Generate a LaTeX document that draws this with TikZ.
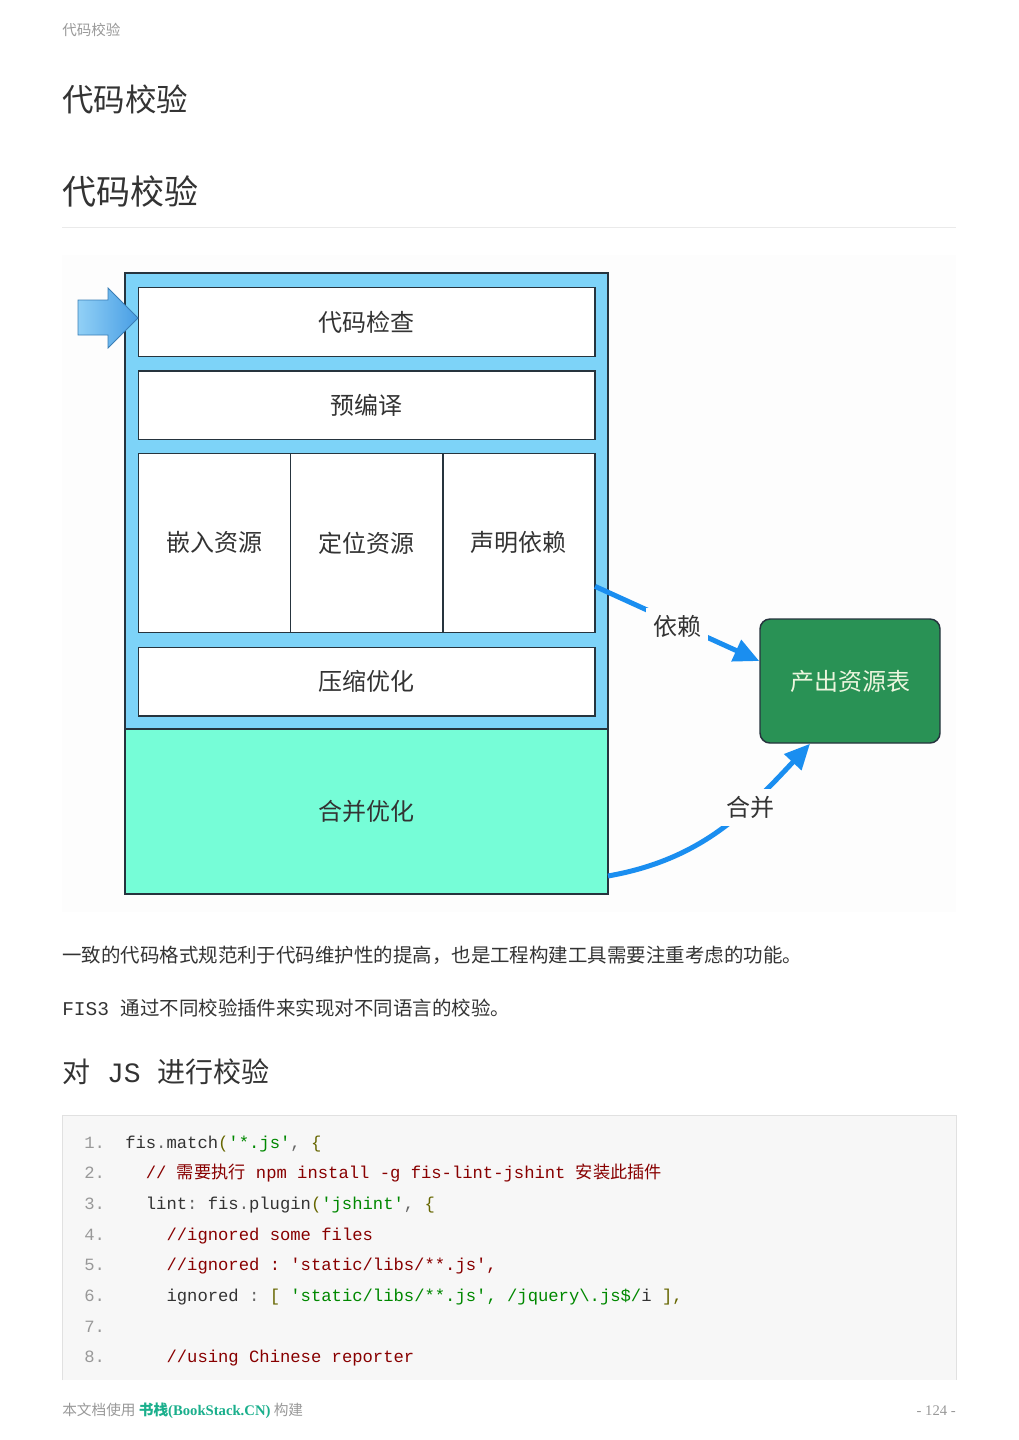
\documentclass[tikz,border=0pt]{standalone}
\usepackage{fontspec}
\setmainfont{Noto Sans CJK SC}
\setmonofont{Liberation Mono}
\newfontfamily\cjkfont{Noto Sans CJK SC}
\newfontfamily\footserif{Liberation Serif}
\usetikzlibrary{arrows.meta,positioning}

\definecolor{paneblue}{RGB}{125,211,248}
\definecolor{mergegreen}{RGB}{118,253,215}
\definecolor{outgreen}{RGB}{41,146,85}
\definecolor{outtext}{RGB}{236,246,222}
\definecolor{edgedark}{RGB}{38,52,62}
\definecolor{flowblue}{RGB}{26,142,240}
\definecolor{arrowlight}{RGB}{145,208,246}
\definecolor{arrowdark}{RGB}{72,158,228}
\definecolor{textdark}{RGB}{51,51,51}
\definecolor{softgray}{RGB}{153,153,153}
\definecolor{rulegray}{RGB}{234,234,234}
\definecolor{imgbg}{RGB}{253,253,253}
\definecolor{codebg}{RGB}{247,247,247}
\definecolor{codeedge}{RGB}{225,225,225}
\definecolor{codeolive}{RGB}{102,102,0}
\definecolor{codegreen}{RGB}{0,136,0}
\definecolor{codered}{RGB}{136,0,0}
\definecolor{codegray}{RGB}{102,102,102}
\definecolor{bookgreen}{RGB}{26,175,140}

\newcommand{\codepun}[1]{\textcolor{codeolive}{#1}}
\newcommand{\codestr}[1]{\textcolor{codegreen}{#1}}
\newcommand{\codecom}[1]{\textcolor{codered}{#1}}
\newcommand{\codedot}[1]{\textcolor{codegray}{#1}}

\tikzstyle{stage} = [rectangle, draw=edgedark, fill=white, line width=1.1pt, outer sep=0pt, inner sep=0pt, text=textdark, font=\fontsize{18}{22}\selectfont]
\tikzstyle{wide} = [minimum width=342.4pt, minimum height=51.4pt]
\tikzstyle{cell} = [minimum width=114.13pt, minimum height=134.25pt]
\tikzstyle{pane} = [rectangle, draw=edgedark, line width=1.1pt, outer sep=0pt, inner sep=0pt, minimum width=362.25pt]
\tikzstyle{tag} = [fill=imgbg, inner sep=5.5pt, text=textdark, font=\fontsize{18}{22}\selectfont]
\tikzstyle{line} = [draw=flowblue, line width=3.75pt, -{Triangle[length=19pt,width=17pt]}]
\tikzstyle{txt} = [anchor=base west, inner sep=0pt, text=textdark]
\tikzstyle{code} = [txt, font=\ttfamily\fontsize{12.9}{15}\selectfont]
\tikzstyle{lineno} = [code, text=softgray]

\begin{document}
\begin{tikzpicture}[x=0.75pt, y=-0.75pt]
    \useasboundingbox [fill=white] (0,0) rectangle (1019,1440);
    % page head
    \node [txt, text=softgray, font=\fontsize{10.9}{13}\selectfont] (runhead) at (62,35.5) {代码校验};
    \node [txt, font=\fontsize{23.6}{28}\selectfont] (chapter) at (62,111) {代码校验};
    \node [txt, font=\fontsize{25.5}{30}\selectfont] (section) at (62,204) {代码校验};
    \draw [rulegray, line width=0.75pt] (62,227) -- (956,227);
    % figure
    \fill [imgbg] (62,255) rectangle (956,912);
    \node [pane, fill=paneblue, minimum height=342pt] (pipeline) at (366.5,501) {};
    \node [pane, fill=mergegreen, minimum height=123.75pt, below=0pt of pipeline, text=textdark, font=\fontsize{18}{22}\selectfont] (merge) {合并优化};
    \node [stage, wide] (lint) at (366.75,322) {代码检查};
    \node [stage, wide, below=10.9pt of lint] (compile) {预编译};
    \node [stage, cell, below=10.5pt of compile.south west, anchor=north west] (embed) {嵌入资源};
    \node [stage, cell, right=0pt of embed] (locate) {定位资源};
    \node [stage, cell, right=0pt of locate] (declare) {声明依赖};
    \node [stage, wide, below=11.25pt of locate] (minify) {压缩优化};
    \node [rectangle, rounded corners=7.5pt, draw=edgedark, fill=outgreen, line width=1.1pt, minimum width=135pt, minimum height=93pt, text=outtext, font=\fontsize{18}{22}\selectfont] (result) at (850,681) {产出资源表};
    \draw [draw=arrowdark!80!black, line width=0.6pt, left color=arrowlight, right color=arrowdark] (78,300) -- (108,300) -- (108,288) -- (138,318) -- (108,348) -- (108,335) -- (78,335) -- cycle;
    \path [line] ([yshift=34.5pt]declare.south east) -- node [tag, yshift=-2pt] {依赖} ([yshift=15pt]result.west);
    \path [line] ([yshift=13.5pt]merge.south east) to [out=10, in=227] node [tag, pos=0.65, xshift=3pt] {合并} ([xshift=-30pt]result.south);
    % text
    \node [txt, font=\fontsize{14.6}{18}\selectfont] (intro) at (62,962.4) {一致的代码格式规范利于代码维护性的提高，也是工程构建工具需要注重考虑的功能。};
    \node [txt, font=\fontsize{14.6}{18}\selectfont] (plugins) at (62,1015.4) {{\ttfamily FIS3 }通过不同校验插件来实现对不同语言的校验。};
    \node [txt, font=\fontsize{21}{26}\selectfont] (jshead) at (62,1082.6) {对{\ttfamily{} JS }进行校验};
    % code block
    \fill [codebg] (62,1115) rectangle (956,1380);
    \draw [codeedge, line width=0.75pt] (62,1380) -- (62,1115) -- (956,1115) -- (956,1380);
    \node [lineno] (n1) at (84,1148) {1.};
    \node [lineno] (n2) at (84,1178.7) {2.};
    \node [lineno] (n3) at (84,1209.4) {3.};
    \node [lineno] (n4) at (84,1240.1) {4.};
    \node [lineno] (n5) at (84,1270.8) {5.};
    \node [lineno] (n6) at (84,1301.5) {6.};
    \node [lineno] (n7) at (84,1332.2) {7.};
    \node [lineno] (n8) at (84,1362.9) {8.};
    \node [code] (c1) at (125,1148) {fis\codedot{.}match\codepun{(}\codestr{'*.js'}\codedot{,} \codepun{\{}};
    \node [code] (c2) at (145.6,1178.7) {\codecom{// {\cjkfont 需要执行} npm install -g fis-lint-jshint {\cjkfont 安装此插件}}};
    \node [code] (c3) at (145.6,1209.4) {lint\codedot{:} fis\codedot{.}plugin\codepun{(}\codestr{'jshint'}\codedot{,} \codepun{\{}};
    \node [code] (c4) at (166.3,1240.1) {\codecom{//ignored some files}};
    \node [code] (c5) at (166.3,1270.8) {\codecom{//ignored : 'static/libs/**.js',}};
    \node [code] (c6) at (166.3,1301.5) {ignored \codedot{:} \codepun{[} \codestr{'static/libs/**.js', /jquery\textbackslash.js\$/}i \codepun{],}};
    \node [code] (c8) at (166.3,1362.9) {\codecom{//using Chinese reporter}};
    % page foot
    \node [txt, text=softgray, font=\fontsize{11}{13}\selectfont] (credit) at (62,1415) {本文档使用 {\color{bookgreen}\bfseries 书栈{\footserif(BookStack.CN)}} 构建};
    \node [txt, anchor=base east, text=softgray, font=\fontsize{11}{13}\selectfont] (pageno) at (956,1415) {\footserif - 124 -};
\end{tikzpicture}
\end{document}
